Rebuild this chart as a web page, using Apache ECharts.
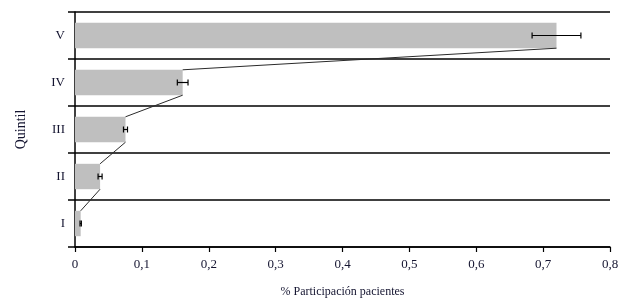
<!DOCTYPE html>
<html>
<head>
<meta charset="utf-8">
<script src="https://cdn.jsdelivr.net/npm/echarts@6/dist/echarts.min.js"></script>
<style>
  html, body { margin: 0; padding: 0; background: #fff; }
  #chart { width: 643px; height: 303px; }
</style>
</head>
<body>
<div id="chart"></div>
<script>
  // datos (de abajo hacia arriba)
  var quintiles = ['I', 'II', 'III', 'IV', 'V']
  var participacion = [0.0085, 0.0375, 0.0755, 0.161, 0.72]
  var errores = [0.001, 0.003, 0.003, 0.008, 0.0365]
  var xTicks = [0, 0.1, 0.2, 0.3, 0.4, 0.5, 0.6, 0.7, 0.8]

  var textColor = '#141430'
  var serif = '"Liberation Serif", "DejaVu Serif", serif'
  var barRatio = 0.54

  // segmentos entre barras consecutivas
  var conectores = []
  for (var i = participacion.length - 1; i > 0; i--) {
    conectores.push([participacion[i], i, participacion[i - 1], i - 1])
  }
  var errData = []
  for (var j = 0; j < participacion.length; j++) {
    errData.push([participacion[j], j, errores[j]])
  }

  var chart = echarts.init(document.getElementById('chart'))
  var option = {
    animation: false,
    grid: { left: 75, right: 33, top: 12, bottom: 51 },
    xAxis: {
      type: 'value',
      min: xTicks[0],
      max: xTicks[xTicks.length - 1],
      interval: 0.1,
      name: '% Participación pacientes',
      nameLocation: 'middle',
      nameGap: 39,
      nameTextStyle: { color: textColor, fontFamily: serif, fontSize: 12 },
      axisLine: { show: true, lineStyle: { color: '#000', width: 1.5 } },
      axisTick: { show: true, length: 5, lineStyle: { color: '#000', width: 1.2 } },
      axisLabel: {
        color: textColor, fontFamily: serif, fontSize: 13, margin: 11,
        formatter: function (v) { return String(Math.round(v * 10) / 10).replace('.', ',') }
      },
      splitLine: { show: false }
    },
    yAxis: {
      type: 'category',
      data: quintiles,
      name: 'Quintil',
      nameLocation: 'middle',
      nameGap: 47,
      nameRotate: 90,
      nameTextStyle: { color: textColor, fontFamily: serif, fontSize: 14 },
      axisLine: { show: true, lineStyle: { color: '#000', width: 1.5 } },
      axisTick: { show: true, length: 7, lineStyle: { color: '#000', width: 1.5 } },
      axisLabel: { color: textColor, fontFamily: serif, fontSize: 13, margin: 10 },
      splitLine: { show: true, lineStyle: { color: '#000', width: 1.5 } }
    },
    series: [
      {
        type: 'bar',
        data: participacion,
        barWidth: (barRatio * 100) + '%',
        itemStyle: { color: '#bfbfbf' }
      },
      {
        type: 'custom',
        data: conectores,
        z: 5,
        renderItem: function (params, api) {
          var h = api.size([0, 1])[1] * barRatio / 2
          var p1 = api.coord([api.value(0), api.value(1)])
          var p2 = api.coord([api.value(2), api.value(3)])
          return {
            type: 'line',
            shape: { x1: p1[0], y1: p1[1] + h, x2: p2[0], y2: p2[1] - h },
            style: { stroke: '#2a2a2a', lineWidth: 1 }
          }
        }
      },
      {
        type: 'custom',
        data: errData,
        z: 6,
        renderItem: function (params, api) {
          var v = api.value(0), e = api.value(2)
          var a = api.coord([v - e, api.value(1)])
          var b = api.coord([v + e, api.value(1)])
          var cap = 3
          var st = { stroke: '#000', lineWidth: 1.2 }
          return {
            type: 'group',
            children: [
              { type: 'line', shape: { x1: a[0], y1: a[1], x2: b[0], y2: b[1] }, style: st },
              { type: 'line', shape: { x1: a[0], y1: a[1] - cap, x2: a[0], y2: a[1] + cap }, style: st },
              { type: 'line', shape: { x1: b[0], y1: b[1] - cap, x2: b[0], y2: b[1] + cap }, style: st }
            ]
          }
        }
      }
    ]
  }
  chart.setOption(option)
</script>
</body>
</html>
